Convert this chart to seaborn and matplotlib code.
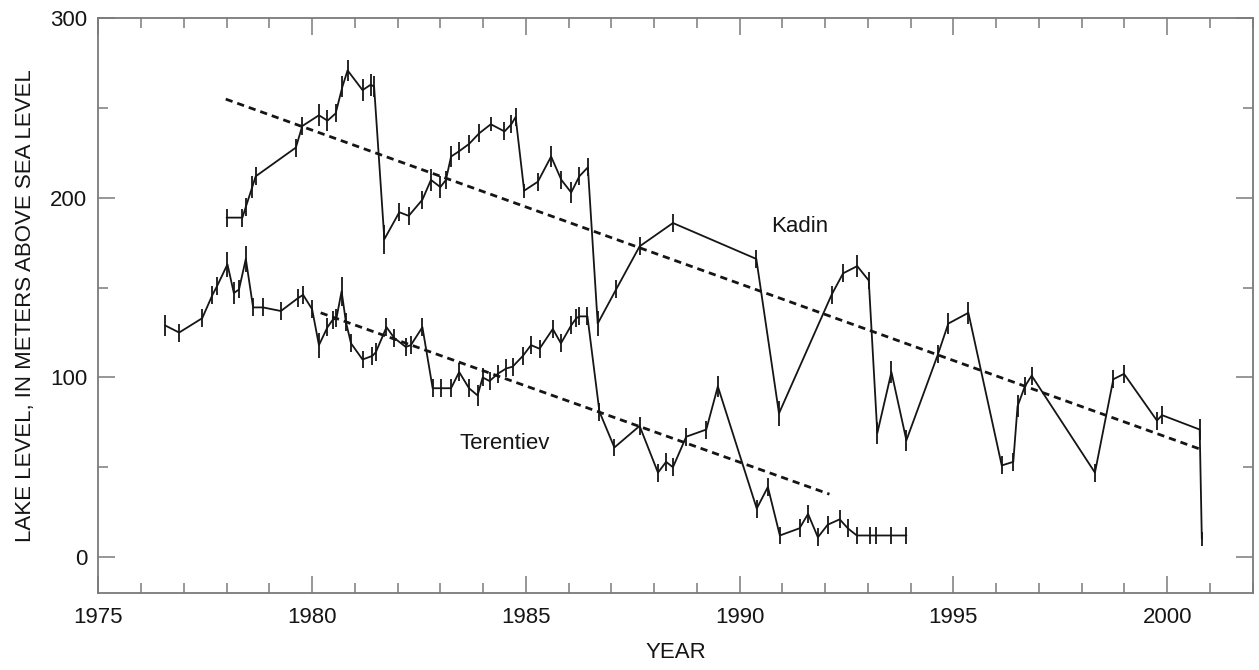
import matplotlib
matplotlib.use("Agg")
import matplotlib.pyplot as plt
from matplotlib.ticker import MultipleLocator
import pandas as pd
import seaborn as sns

# Kadin lake-level record (year, metres above sea level, half-length of error bar)
kadin_years = [1978.00, 1978.37, 1978.45, 1978.60, 1978.68, 1979.62, 1979.77, 1980.16,
               1980.36, 1980.55, 1980.71, 1980.83, 1981.18, 1981.37, 1981.45, 1981.69,
               1982.04, 1982.26, 1982.58, 1982.78, 1983.00, 1983.13, 1983.25, 1983.44,
               1983.67, 1983.91, 1984.18, 1984.50, 1984.66, 1984.76, 1984.96, 1985.28,
               1985.59, 1985.83, 1986.06, 1986.25, 1986.45, 1986.68, 1987.11, 1987.66,
               1988.44, 1990.39, 1990.92, 1992.15, 1992.42, 1992.75, 1993.02, 1993.22,
               1993.55, 1993.90, 1994.64, 1994.88, 1995.35, 1996.13, 1996.40, 1996.50,
               1996.67, 1996.83, 1998.31, 1998.74, 1998.99, 1999.76, 1999.88, 2000.76,
               2000.81]
kadin_levels = [189, 189, 195, 206, 212, 228, 240, 246,
                243, 247, 262, 271, 260, 263, 262, 177,
                192, 190, 199, 210, 206, 210, 223, 226,
                230, 236, 241, 237, 241, 245, 204, 209,
                223, 210, 203, 212, 217, 130, 149, 173,
                186, 166, 80, 146, 158, 162, 154, 69,
                103, 65, 113, 130, 136, 51, 53, 84,
                95, 101, 47, 99, 102, 76, 79, 71,
                10]
kadin_err = [5, 5, 5, 6, 5, 5, 5, 6,
             6, 5, 6, 6, 6, 6, 6, 8,
             5, 5, 5, 6, 6, 5, 6, 5,
             5, 5, 4, 5, 5, 5, 4, 5,
             6, 5, 6, 5, 5, 7, 5, 5,
             5, 5, 7, 5, 5, 6, 5, 6,
             6, 6, 5, 6, 6, 5, 5, 6,
             5, 5, 5, 5, 5, 5, 5, 6,
             4]

# Terentiev lake-level record
ter_years = [1976.56, 1976.89, 1977.43, 1977.67, 1977.78, 1978.02, 1978.17, 1978.29,
             1978.45, 1978.62, 1978.85, 1979.27, 1979.66, 1979.79, 1980.00, 1980.16,
             1980.36, 1980.48, 1980.57, 1980.69, 1980.79, 1980.91, 1981.18, 1981.41,
             1981.49, 1981.74, 1981.92, 1982.19, 1982.31, 1982.58, 1982.82, 1983.02,
             1983.25, 1983.44, 1983.67, 1983.87, 1983.99, 1984.15, 1984.34, 1984.54,
             1984.69, 1984.93, 1985.12, 1985.32, 1985.63, 1985.82, 1986.06, 1986.18,
             1986.25, 1986.44, 1986.72, 1987.07, 1987.66, 1988.09, 1988.28, 1988.44,
             1988.75, 1989.22, 1989.49, 1990.40, 1990.66, 1990.94, 1991.40, 1991.60,
             1991.83, 1992.06, 1992.34, 1992.53, 1992.74, 1993.04, 1993.20, 1993.55,
             1993.90]
ter_levels = [129, 125, 133, 146, 151, 163, 147, 149,
              166, 139, 139, 137, 144, 146, 138, 118,
              128, 132, 133, 148, 131, 119, 110, 112,
              114, 128, 122, 117, 118, 128, 94, 94,
              94, 103, 94, 90, 100, 98, 102, 105,
              106, 112, 118, 116, 127, 119, 129, 133,
              134, 134, 81, 61, 73, 47, 53, 50,
              67, 71, 95, 27, 39, 12, 16, 24,
              11, 18, 21, 16, 12, 12, 12, 12,
              12]
ter_err = [6, 5, 5, 5, 5, 7, 6, 5,
           7, 5, 5, 5, 5, 5, 5, 7,
           5, 5, 5, 8, 5, 5, 5, 5,
           5, 5, 5, 5, 5, 5, 5, 5,
           5, 5, 5, 6, 5, 5, 5, 5,
           5, 5, 5, 5, 5, 5, 5, 5,
           5, 5, 5, 5, 5, 5, 5, 5,
           5, 5, 6, 5, 5, 5, 5, 5,
           5, 5, 5, 5, 5, 5, 5, 5,
           5]

# Linear trend lines (end points)
kadin_trend_years = [1977.98, 2000.78]
kadin_trend_levels = [255, 60]
ter_trend_years = [1980.20, 1992.10]
ter_trend_levels = [136, 35]

sns.set_theme(style="white")
plt.rcParams['font.family'] = ['Liberation Sans', 'DejaVu Sans']

ink = "#151515"
frame = "#7a7a7a"

fig, ax = plt.subplots(figsize=(12.59, 6.70), dpi=100)
fig.subplots_adjust(left=0.0781, right=0.995, top=0.9727, bottom=0.115)

for yrs, lv, er in [(kadin_years, kadin_levels, kadin_err),
                    (ter_years, ter_levels, ter_err)]:
    df = pd.DataFrame({"year": yrs, "level": lv, "err": er})
    sns.lineplot(data=df, x="year", y="level", ax=ax, color=ink, lw=1.3,
                 estimator=None, sort=False)
    ax.errorbar(df["year"], df["level"], yerr=df["err"], fmt="none",
                ecolor=ink, elinewidth=1.3, capsize=0)

for yrs, lv in [(kadin_trend_years, kadin_trend_levels),
                (ter_trend_years, ter_trend_levels)]:
    tdf = pd.DataFrame({"year": yrs, "level": lv})
    sns.lineplot(data=tdf, x="year", y="level", ax=ax, color=ink, lw=2.0,
                 estimator=None, sort=False)
    ax.lines[-1].set_dashes((2.6, 1.8))

ax.text(1991.4, 184, "Kadin", fontsize=16, color=ink, ha="center", va="center")
ax.text(1984.5, 63, "Terentiev", fontsize=16, color=ink, ha="center", va="center")

ax.set_xlim(1975, 2002)
ax.set_ylim(-20, 300)
ax.xaxis.set_major_locator(MultipleLocator(5))
ax.xaxis.set_minor_locator(MultipleLocator(1))
ax.yaxis.set_major_locator(MultipleLocator(100))
ax.yaxis.set_minor_locator(MultipleLocator(50))

ax.tick_params(which="both", direction="in", top=True, right=True,
               bottom=True, left=True, color=frame, width=1.1,
               labelsize=16, labelcolor=ink)
ax.tick_params(axis="x", which="both", pad=10)
ax.tick_params(axis="y", which="both", pad=8)
ax.tick_params(which="major", length=12)
ax.tick_params(which="minor", length=7.5)

for s in ax.spines.values():
    s.set_color(frame)
    s.set_linewidth(1.3)

ax.set_xlabel("YEAR", fontsize=16, color=ink, labelpad=10)
ax.set_ylabel("LAKE LEVEL, IN METERS ABOVE SEA LEVEL", fontsize=16, color=ink, labelpad=10)
ax.grid(False)

fig.savefig("out.png", dpi=100, facecolor="white")
